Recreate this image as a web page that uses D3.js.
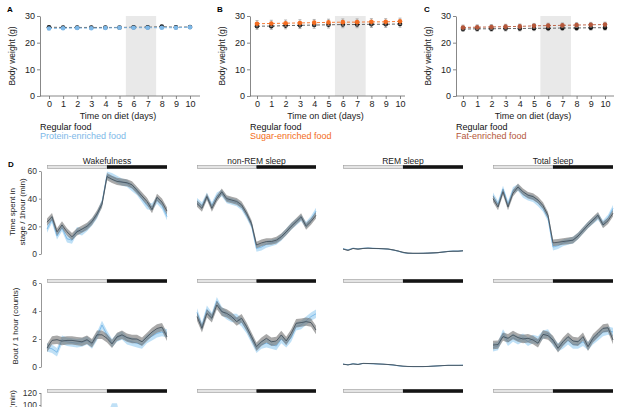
<!DOCTYPE html>
<html><head><meta charset="utf-8">
<script src="https://cdn.jsdelivr.net/npm/d3@7"></script>
<style>body{margin:0;background:#fff}svg{display:block}text{font-family:"Liberation Sans",Arial,sans-serif}</style>
</head><body><svg id="c" width="626" height="407"></svg>
<script>
// ---------- Data: body weight (A–C) ----------
const days = [0,1,2,3,4,5,6,7,8,9,10];
const regularA = [25.8,25.7,25.7,25.7,25.7,25.7,25.8,25.8,26.0,25.8,25.9];
const proteinA = [25.3,25.4,25.5,25.4,25.5,25.6,25.6,25.6,25.6,25.6,25.8];
const regularB = [26.2,26.2,26.4,26.5,26.6,26.7,26.8,26.8,26.9,26.9,27.0];
const sugarB   = [27.1,27.2,27.3,27.4,27.5,27.6,27.7,27.7,27.8,27.8,28.0];
const regularC = [25.1,25.2,25.2,25.3,25.3,25.4,25.4,25.5,25.5,25.6,25.6];
const fatC     = [25.7,25.8,25.9,26.0,26.1,26.3,26.4,26.5,26.6,26.7,26.8];
const errA = 0.4, errB = 1.2, errC = 0.9;
const weightTicks = [0,10,20,30];
const shadeDays = [5.45, 7.6];

// ---------- Data: sleep/wake (D), 25 hourly points ZT0..ZT24 ----------
const hours = d3.range(25);
const stageTitles = ["Wakefulness","non-REM sleep","REM sleep","Total sleep"];
// Row 1: time spent in stage (min per hour)
const timeReg = [
  [23,27,16,21,16,12.5,16,18,20,23.5,29,36,56,54,52.5,52,51.5,50,46,42,38,32,41,37.5,31],
  [36.5,33,41.5,33,40,45,40,39,38,35.5,29.5,22,6.5,8,9,9,10,12.5,16,20,23.5,27,20,23.5,28],
  [3.6,2.6,4,3.5,4,4.2,4,4,3.8,3.6,3,2.2,1.2,0.6,0.5,0.5,0.5,0.6,0.8,1,1.4,1.8,2,2,2.3],
  [40,34,45,34,44,48.5,45,42.5,41.5,39,35,28,8,8.5,9,9.5,10,13,17,21,24.5,28,21,24,29.5]
];
const timePro = [
  [18,25,13,19,11,10,17,16,19,23,28,37,57,56,54,52,51,48,45,40,35,34,39,35,27],
  [38,35,42,35,42,44,39,38,37,34,28,21,4,5,7,8,9,12,16,20,23,26,21,25,31],
  [3.8,3,4.2,3.7,4.1,4.3,4.1,3.9,3.8,3.5,2.9,2.1,1,0.5,0.4,0.4,0.5,0.6,0.8,1,1.4,1.9,2.1,2.1,2.4],
  [42,36,47,36,46,48,43,41,40,37,33,26,5,6,8,9,10,13,17,21,24,27,22,26,33]
];
const timeErr = [2.6,2.4,0.4,2.4];
// Row 2: bouts per hour (counts)
const boutReg = [
  [1.35,1.9,1.95,1.85,1.9,1.9,1.85,1.8,1.95,1.7,2.3,2.3,2.05,1.65,2.15,2.3,2.1,2.0,2.0,1.8,2.15,2.5,2.75,2.85,2.15],
  [3.6,2.76,3.83,3.48,4.43,3.95,3.83,3.6,3.24,3.48,2.88,2.17,1.45,1.8,2.05,1.8,1.86,2.29,1.86,2.4,3.12,3.17,3.24,3.17,2.64],
  [0.2,0.15,0.22,0.18,0.26,0.25,0.24,0.22,0.2,0.18,0.15,0.1,0.06,0.04,0.03,0.03,0.03,0.04,0.06,0.08,0.1,0.12,0.12,0.12,0.12],
  [1.57,1.6,2.17,2.05,2.29,2.1,2.0,2.05,1.93,1.7,2.33,2.24,1.93,1.33,1.8,2.17,1.86,1.8,2.17,1.45,2.05,2.4,2.76,2.8,1.93]
];
const boutPro = [
  [1.4,1.3,1.05,1.95,1.8,1.75,1.7,1.75,1.9,1.6,2.2,3.0,2.3,1.7,2.1,2.25,1.9,1.8,1.7,1.6,2.0,2.2,2.4,2.5,2.4],
  [3.9,2.9,4.1,3.6,4.7,4.0,3.7,3.5,3.5,3.2,2.7,2.0,1.3,1.6,1.7,1.6,1.5,2.0,1.7,2.1,2.9,3.0,3.3,3.6,3.8],
  [0.21,0.16,0.23,0.19,0.25,0.24,0.23,0.21,0.2,0.17,0.14,0.09,0.05,0.03,0.03,0.03,0.03,0.04,0.06,0.08,0.1,0.12,0.12,0.12,0.13],
  [1.4,1.5,2.4,1.8,2.1,1.9,2.1,1.8,2.0,1.9,2.3,2.4,1.8,1.4,1.6,1.9,1.6,1.6,1.8,1.5,1.9,2.2,2.5,2.6,2.5]
];
const boutErr = [0.3,0.3,0.03,0.3];
// Row 3: bout duration (min) - mostly below the visible frame
const durReg = [
  [15,12,10,14,11,9,12,13,14,18,25,40,70,85,70,60,50,45,40,35,30,25,30,28,22],
  [12,11,13,12,14,15,13,12,12,11,10,9,5,6,6,6,7,8,9,10,11,12,10,11,12],
  [1,1,1,1,1,1,1,1,1,1,1,1,1,1,1,1,1,1,1,1,1,1,1,1,1],
  [14,13,15,13,15,16,14,13,13,12,11,10,6,7,7,7,8,9,10,11,12,13,11,12,13]
];
const durPro = [
  [14,11,12,12,10,8,11,12,13,17,26,42,75,95,95,60,50,44,38,32,28,26,28,25,20],
  [12,11,13,12,14,15,13,12,12,11,10,9,5,6,6,6,7,8,9,10,11,12,10,11,12],
  [1,1,1,1,1,1,1,1,1,1,1,1,1,1,1,1,1,1,1,1,1,1,1,1,1],
  [14,13,15,13,15,16,14,13,13,12,11,10,6,7,7,7,8,9,10,11,12,13,11,12,13]
];
const durErr = [8,3,0.5,3];
const timeTicks = [0,20,40,60], boutTicks = [0,2,4,6], durTicks = [100,120];

// ---------- Drawing ----------
const svg = d3.select("#c");
const FONT = '"Liberation Sans",Arial,sans-serif';
const AX = "#6a6a6a";
const COL_PRO = "#7db8e8", COL_SUG = "#f36c21", COL_FAT = "#b5573a";

function weightPanel(o){
  const g = svg.append("g");
  const x = d3.scaleLinear().domain([0,10]).range([o.d0,o.d10]);
  const y = d3.scaleLinear().domain([0,30]).range([96,16]);
  g.append("rect").attr("x",x(shadeDays[0])).attr("width",x(shadeDays[1])-x(shadeDays[0]))
    .attr("y",y(30)).attr("height",y(0)-y(30)).attr("fill","#e9e9e9");
  const ya = g.append("g").attr("transform",`translate(${o.ax},0)`)
    .call(d3.axisLeft(y).tickValues(weightTicks).tickSize(3).tickSizeOuter(0));
  const xa = g.append("g").attr("transform",`translate(0,96)`)
    .call(d3.axisBottom(x).tickValues(days).tickSize(3).tickSizeOuter(0));
  xa.select(".domain").attr("d",`M${o.ax},0H${o.right}`);
  [ya,xa].forEach(a=>{a.selectAll("path,line").attr("stroke",AX).attr("stroke-width",0.8);
    a.selectAll("text").attr("font-family",FONT).attr("font-size",9).attr("fill","#222");});
  ya.selectAll("text").attr("x",-5);
  xa.selectAll("text").attr("y",5);
  g.append("text").attr("x",(o.ax+o.right)/2-2).attr("y",119).attr("text-anchor","middle")
    .attr("font-size",9).attr("fill","#222").text("Time on diet (days)");
  g.append("text").attr("transform",`translate(${o.ax-25},56) rotate(-90)`).attr("text-anchor","middle")
    .attr("font-size",8.5).attr("fill","#222").text("Body weight (g)");
  g.append("text").attr("x",o.lx).attr("y",12).attr("font-size",8).attr("font-weight","bold").text(o.letter);
  const line = d3.line().x((d,i)=>x(days[i])).y(d=>y(d));
  o.series.forEach(s=>{
    g.append("path").attr("d",line(s.v)).attr("fill","none").attr("stroke",s.lc)
      .attr("stroke-width",0.9).attr("stroke-dasharray","3,2");
    s.v.forEach((v,i)=>{
      const cx=x(days[i]);
      g.append("line").attr("x1",cx).attr("x2",cx).attr("y1",y(v-s.e)).attr("y2",y(v+s.e)).attr("stroke","#999").attr("stroke-width",0.7);
      [v-s.e,v+s.e].forEach(w=>g.append("line").attr("x1",cx-1.5).attr("x2",cx+1.5).attr("y1",y(w)).attr("y2",y(w)).attr("stroke","#999").attr("stroke-width",0.7));
    });
    g.selectAll(null).data(s.v).enter().append("circle").attr("cx",(d,i)=>x(days[i])).attr("cy",d=>y(d))
      .attr("r",2.3).attr("fill",s.c);
  });
  g.append("text").attr("x",o.ax).attr("y",130).attr("font-size",9).attr("fill","#111").text("Regular food");
  g.append("text").attr("x",o.ax).attr("y",139).attr("font-size",9).attr("fill",o.lcol).text(o.label);
}

weightPanel({letter:"A",lx:7,ax:40,d0:49,d10:190,right:200,lcol:COL_PRO,label:"Protein-enriched food",
  series:[{v:regularA,c:"#111",lc:"#555",e:errA},{v:proteinA,c:COL_PRO,lc:COL_PRO,e:errA}]});
weightPanel({letter:"B",lx:217,ax:250,d0:257,d10:400,right:405,lcol:COL_SUG,label:"Sugar-enriched food",
  series:[{v:regularB,c:"#111",lc:"#555",e:errB},{v:sugarB,c:COL_SUG,lc:COL_SUG,e:errB}]});
weightPanel({letter:"C",lx:424,ax:456,d0:463,d10:605,right:614,lcol:COL_FAT,label:"Fat-enriched food",
  series:[{v:regularC,c:"#111",lc:"#555",e:errC},{v:fatC,c:COL_FAT,lc:COL_FAT,e:errC}]});

// ---- Panel D ----
svg.append("text").attr("x",8).attr("y",167).attr("font-size",8).attr("font-weight","bold").text("D");
const cols = [[47,167],[197,316],[343,463],[493,613]];
const rows = [
  {bar:167, y:d3.scaleLinear().domain([0,60]).range([254,171]), ticks:timeTicks, reg:timeReg, pro:timePro, err:timeErr},
  {bar:281, y:d3.scaleLinear().domain([0,6]).range([367,283]), ticks:boutTicks, reg:boutReg, pro:boutPro, err:boutErr},
  {bar:391, y:d3.scaleLinear().domain([0,120]).range([465,393]), ticks:durTicks, reg:durReg, pro:durPro, err:durErr}
];
stageTitles.forEach((t,c)=>{
  svg.append("text").attr("x",(cols[c][0]+cols[c][1])/2).attr("y",164).attr("text-anchor","middle")
    .attr("font-size",8.5).attr("fill","#222").text(t);
});
rows.forEach((r,ri)=>{
  cols.forEach((cr,c)=>{
    const x = d3.scaleLinear().domain([0,24]).range(cr);
    const g = svg.append("g");
    const mid = x(12);
    g.append("rect").attr("x",cr[0]+0.5).attr("y",r.bar-1.5).attr("width",mid-cr[0]-0.5).attr("height",3)
      .attr("fill","#e4e4e4").attr("stroke","#9c9c9c").attr("stroke-width",0.6);
    g.append("rect").attr("x",mid).attr("y",r.bar-1.8).attr("width",cr[1]-mid).attr("height",3.6).attr("fill","#141414");
    const e = r.err[c];
    const area = d3.area().x((d,i)=>x(hours[i])).y0(d=>r.y(d-e)).y1(d=>r.y(d+e));
    const line = d3.line().x((d,i)=>x(hours[i])).y(d=>r.y(d));
    g.append("path").attr("d",area(r.pro[c])).attr("fill","#a9d5f3").attr("opacity",0.75);
    g.append("path").attr("d",line(r.pro[c])).attr("fill","none").attr("stroke","#6fb3e6").attr("stroke-width",0.8);
    g.append("path").attr("d",area(r.reg[c])).attr("fill","#6f6f6f").attr("opacity",0.6);
    g.append("path").attr("d",line(r.reg[c])).attr("fill","none").attr("stroke","#3c4a55").attr("stroke-width",0.8);
  });
  const ya = svg.append("g").attr("transform",`translate(41,0)`)
    .call(d3.axisLeft(r.y).tickValues(r.ticks).tickFormat(d3.format("d")).tickSize(2).tickSizeOuter(0));
  if(ri===2) ya.select(".domain").attr("d",`M0,${r.y(120)}V${r.y(0)}`);
  ya.selectAll("path,line").attr("stroke",AX).attr("stroke-width",0.7);
  ya.selectAll("text").attr("font-family",FONT).attr("font-size",8.5).attr("fill","#333").attr("x",-4);
});
svg.append("text").attr("transform","translate(15,212) rotate(-90)").attr("text-anchor","middle")
  .attr("font-size",8).attr("fill","#222").text("Time spent in");
svg.append("text").attr("transform","translate(25,212) rotate(-90)").attr("text-anchor","middle")
  .attr("font-size",8).attr("fill","#222").text("stage / 1hour (min)");
svg.append("text").attr("transform","translate(18,326) rotate(-90)").attr("text-anchor","middle")
  .attr("font-size",8).attr("fill","#222").text("Bout / 1 hour (counts)");
svg.append("text").attr("transform","translate(15,390) rotate(-90)").attr("text-anchor","end")
  .attr("font-size",8).attr("fill","#222").text("Bout duration (min)");
</script></body></html>
